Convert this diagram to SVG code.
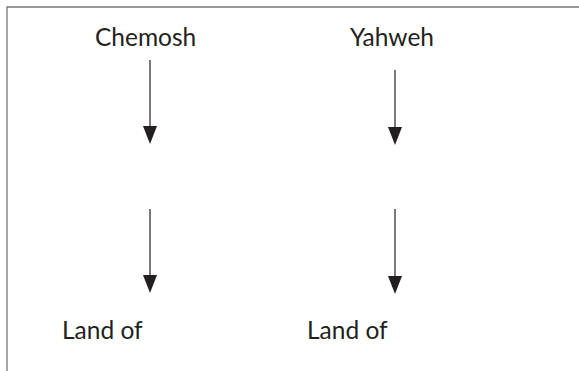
<svg xmlns="http://www.w3.org/2000/svg" width="579" height="371" viewBox="0 0 579 371">
<style>
.frame{stroke:#777;stroke-width:1.3;fill:none}
.lbl{font-family:Lato,"Liberation Sans",sans-serif;font-size:24.5px;fill:#231f20}
.conn line{stroke:#231f20;stroke-width:1.2}
.conn path{fill:#231f20}
</style>
<rect width="579" height="371" fill="#fff"/>
<path class="frame" d="M7,371 V7 H579"/>
<g id="chemosh"><text class="lbl" x="95" y="46">Chemosh</text></g>
<g id="yahweh"><text class="lbl" x="350" y="46">Yahweh</text></g>
<g id="land-left"><text class="lbl" x="62" y="339">Land of</text></g>
<g id="land-right"><text class="lbl" x="307" y="339">Land of</text></g>
<g id="connectors" class="conn">
<line x1="150" y1="60" x2="150" y2="128"/>
<path d="M143,126 L157,126 L150,144 Z"/>
<line x1="150" y1="209" x2="150" y2="277"/>
<path d="M143,275 L157,275 L150,293 Z"/>
<line x1="395" y1="70" x2="395" y2="129"/>
<path d="M388,127 L402,127 L395,145 Z"/>
<line x1="395" y1="209" x2="395" y2="278"/>
<path d="M388,276 L402,276 L395,294 Z"/>
</g>
</svg>
